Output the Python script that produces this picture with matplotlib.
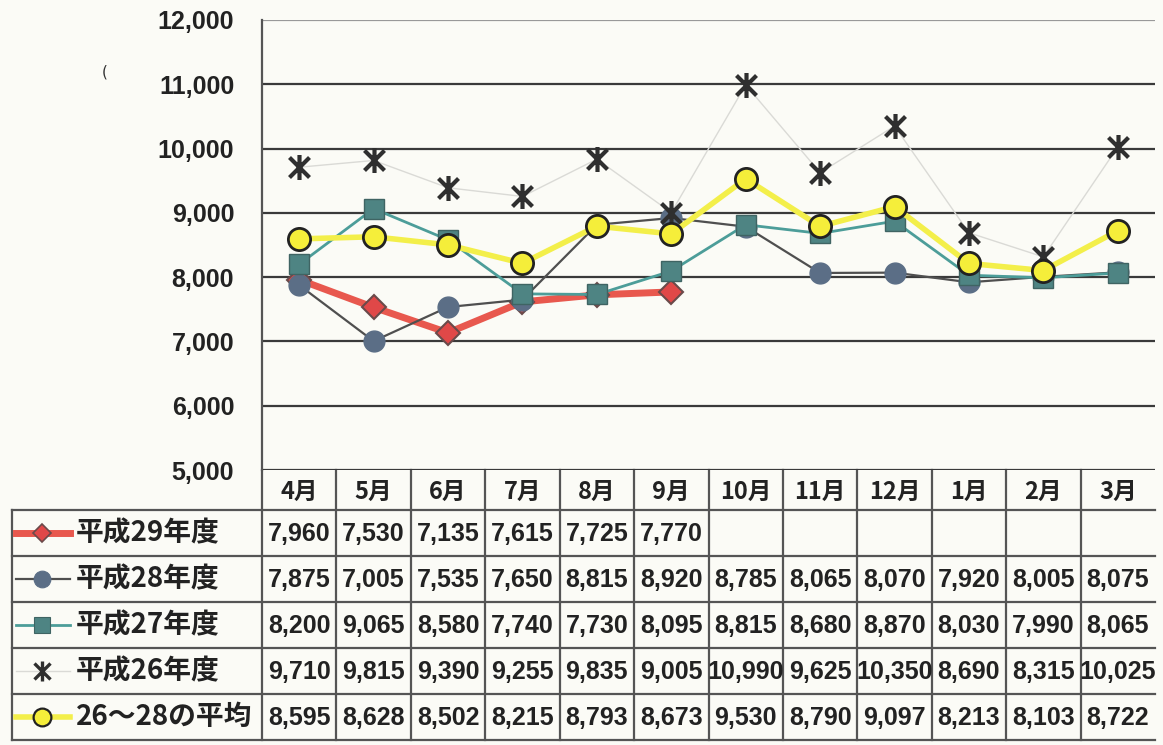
import matplotlib
matplotlib.use("Agg")
import matplotlib.pyplot as plt
from matplotlib.path import Path
import numpy as np

# ---------------- data ----------------
months = ['4月', '5月', '6月', '7月', '8月', '9月', '10月', '11月', '12月', '1月', '2月', '3月']
series_names = ['平成29年度', '平成28年度', '平成27年度', '平成26年度', '26～28の平均']
h29 = [7960, 7530, 7135, 7615, 7725, 7770, None, None, None, None, None, None]
h28 = [7875, 7005, 7535, 7650, 8815, 8920, 8785, 8065, 8070, 7920, 8005, 8075]
h27 = [8200, 9065, 8580, 7740, 7730, 8095, 8815, 8680, 8870, 8030, 7990, 8065]
h26 = [9710, 9815, 9390, 9255, 9835, 9005, 10990, 9625, 10350, 8690, 8315, 10025]
avg = [8595, 8628, 8502, 8215, 8793, 8673, 9530, 8790, 9097, 8213, 8103, 8722]
yticks = [5000, 6000, 7000, 8000, 9000, 10000, 11000, 12000]

# ---------------- styles ----------------
W, H = 1163, 745
BG = '#FBFBF6'
JP = ['Noto Sans CJK JP', 'DejaVu Sans']
NUM = ['Liberation Sans', 'DejaVu Sans']

star = Path([(-1, -1), (1, 1), (-1, 1), (1, -1), (0, -1.25), (0, 1.25)],
            [Path.MOVETO, Path.LINETO, Path.MOVETO, Path.LINETO, Path.MOVETO, Path.LINETO])

styles = [
    dict(color='#E8584E', lw=5, marker='D', ms=12, mfc='#E04848', mec='#6a4a4a', mew=1.5, zorder=2),
    dict(color='#4f4f4f', lw=1.6, marker='o', ms=15, mfc='#5B6E86', mec='#5B6E86', mew=1, zorder=3),
    dict(color='#4C9D99', lw=2.0, marker='s', ms=14, mfc='#4E8483', mec='#3f6463', mew=1, zorder=4),
    dict(color='#DADAD6', lw=1.0, marker=star, ms=18, mfc='#2f2f2f', mec='#2f2f2f', mew=3, zorder=5),
    dict(color='#F3EF4A', lw=4, marker='o', ms=16, mfc='#F5EE3A', mec='#222222', mew=2, zorder=6),
]
all_series = [h29, h28, h27, h26, avg]

fig = plt.figure(figsize=(W / 100, H / 100), dpi=100, facecolor=BG)

# ---------------- main chart ----------------
L, R, T, B = 262, 1155, 20, 470
ax = fig.add_axes([L / W, 1 - B / H, (R - L) / W, (B - T) / H])
ax.set_facecolor('none')
x = np.arange(len(months))
for s, st in zip(all_series, styles):
    y = np.array([np.nan if v is None else v for v in s], dtype=float)
    ax.plot(x, y, **st)

ax.set_xlim(-0.5, len(months) - 0.5)
ax.set_ylim(5000, 12000)
ax.set_yticks(yticks)
ax.set_yticklabels([f'{v:,}' for v in yticks], fontsize=18, fontweight='bold',
                   family=NUM, color='#222222')
ax.tick_params(axis='y', length=0, pad=20)
ax.set_xticks([])
for v in yticks:
    ax.axhline(v, color='#999999' if v == 12000 else '#3a3a3a', lw=1.6, zorder=1)
for sp in ['top', 'right', 'bottom']:
    ax.spines[sp].set_visible(False)
ax.spines['left'].set_color('#555555')
ax.spines['left'].set_linewidth(1.6)

# ---------------- data table ----------------
ov = fig.add_axes([0, 0, 1, 1], zorder=-1)
ov.set_facecolor('none')
ov.set_xlim(0, W)
ov.set_ylim(H, 0)
ov.axis('off')

colw = (R - L) / len(months)
centers = L + colw * (x + 0.5)
row_edges = [510, 556, 602, 648, 694, 740]
line_c = '#555555'

for ye in row_edges:
    ov.plot([12, R], [ye, ye], color=line_c, lw=1.6)
ov.plot([12, 12], [row_edges[0], row_edges[-1]], color=line_c, lw=1.6)
for i in range(len(months)):
    xb = L + colw * i
    ov.plot([xb, xb], [B, row_edges[-1]], color=line_c, lw=1.6)

for cx, m in zip(centers, months):
    ov.text(cx, 492, m, ha='center', va='center', fontsize=17, fontweight='bold',
            family=JP, color='#222222')

for r, (name, s, st) in enumerate(zip(series_names, all_series, styles)):
    yc = (row_edges[r] + row_edges[r + 1]) / 2
    ov.plot([16, 70], [yc, yc], color=st['color'], lw=st['lw'], zorder=3)
    ov.plot([42], [yc], linestyle='none', marker=st['marker'], ms=st['ms'] * 0.8,
            mfc=st['mfc'], mec=st['mec'], mew=st['mew'] * 0.8, zorder=4)
    ov.text(76, yc, name, ha='left', va='center', fontsize=20, fontweight='bold',
            family=JP, color='#222222')
    for cx, v in zip(centers, s):
        if v is None:
            continue
        ov.text(cx, yc + 1, f'{v:,}', ha='center', va='center', fontsize=18,
                fontweight='bold', family=NUM, color='#222222')

ov.text(105, 72, '(', ha='center', va='center', fontsize=11, color='#333333')

fig.savefig('out.png', dpi=100, facecolor=BG)
